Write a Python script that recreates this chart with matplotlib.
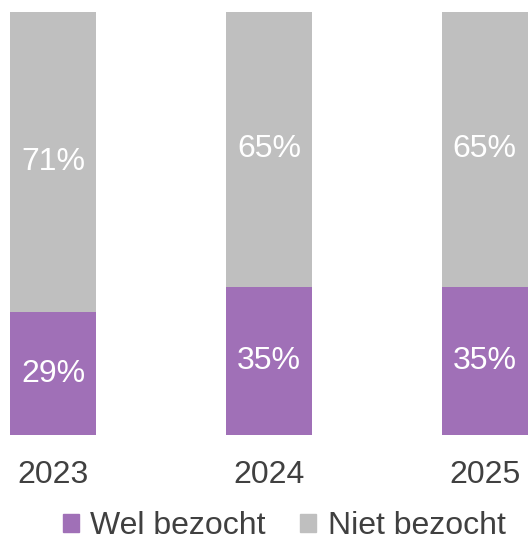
import matplotlib.pyplot as plt
from matplotlib.patches import Patch

plt.rcParams['font.family'] = ['Liberation Sans', 'DejaVu Sans']

years = ['2023', '2024', '2025']
wel = [29, 35, 35]
niet = [71, 65, 65]

purple = '#A070B7'
grey = '#BFBFBF'
textc = '#404040'

fig = plt.figure(figsize=(5.31, 5.40), dpi=100)
ax = fig.add_axes([10 / 531, 105 / 540, 518 / 531, 423 / 540])

x = range(len(years))
ax.bar(x, wel, width=0.4, color=purple)
ax.bar(x, niet, width=0.4, bottom=wel, color=grey)

for i in x:
    ax.text(i, wel[i] / 2, f'{wel[i]}%', ha='center', va='center', color='white', fontsize=23)
    ax.text(i, wel[i] + niet[i] / 2, f'{niet[i]}%', ha='center', va='center', color='white', fontsize=23)

ax.set_xlim(-0.2, 2.2)
ax.set_ylim(0, 100)
ax.set_xticks(list(x))
ax.set_xticklabels(years, fontsize=23, color=textc)
ax.tick_params(axis='x', length=0, pad=18)
ax.set_yticks([])
for s in ax.spines.values():
    s.set_visible(False)

handles = [Patch(color=purple, label='Wel bezocht'), Patch(color=grey, label='Niet bezocht')]
leg = fig.legend(handles=handles, loc='lower center', bbox_to_anchor=(0.535, -0.056), ncol=2,
                 frameon=False, fontsize=23, handlelength=0.5, handleheight=0.5,
                 handletextpad=0.35, columnspacing=1.1)
for t in leg.get_texts():
    t.set_color(textc)

fig.savefig('out.png', dpi=100)
